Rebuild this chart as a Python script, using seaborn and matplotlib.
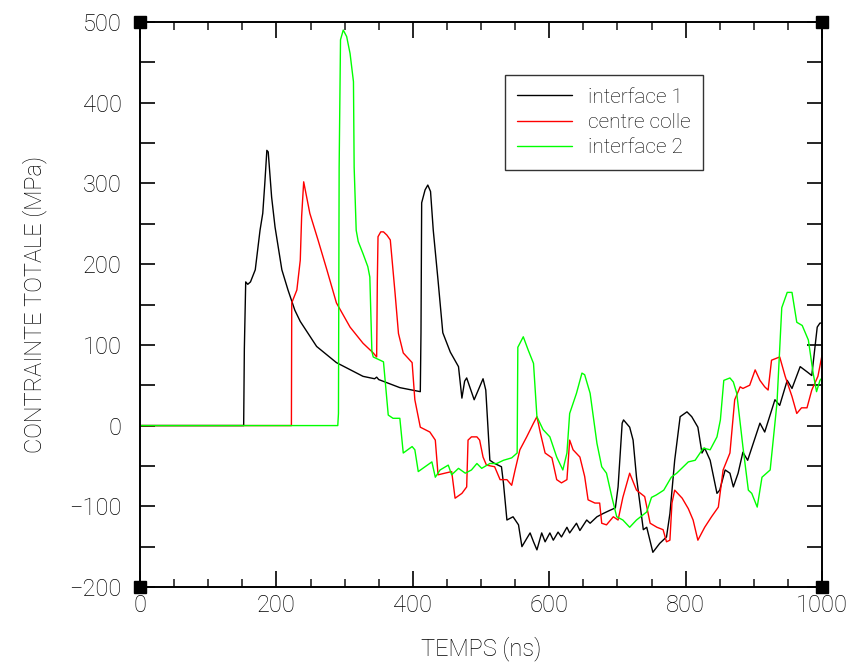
import numpy as np
import pandas as pd
import matplotlib
matplotlib.use("Agg")
import matplotlib.pyplot as plt
import seaborn as sns

# ---- data ----
series_names = ["interface 1", "centre colle", "interface 2"]
series_colors = ["#000000", "#ff0000", "#00ff00"]

t_interface1 = [0, 152, 153, 155, 158, 162, 169, 176, 180, 183, 186, 188, 193, 198, 208, 217,
                227, 235, 259, 288, 327, 344, 347, 350, 381, 411, 412, 413, 418, 422, 426, 430,
                437, 444, 455, 467, 472, 476, 479, 490, 500, 503, 507, 513, 520, 530, 533, 538,
                547, 555, 560, 567, 572, 577, 582, 589, 594, 601, 606, 613, 618, 626, 630, 640,
                645, 655, 660, 670, 679, 689, 697, 701, 707, 709, 718, 723, 728, 738, 743, 752,
                762, 772, 777, 784, 792, 802, 809, 818, 824, 828, 836, 846, 850, 858, 865, 870,
                877, 884, 891, 909, 916, 931, 938, 949, 956, 968, 979, 985, 993, 997, 1000]
s_interface1 = [0, 0, 95, 178, 175, 178, 193, 242, 263, 300, 341, 339, 283, 246, 193, 168,
                143, 129, 98, 78, 61, 58, 60, 57, 47, 42, 115, 276, 292, 298, 290, 242,
                180, 115, 91, 73, 34, 55, 59, 32, 52, 58, 44, -43, -47, -51, -72, -117,
                -113, -123, -150, -140, -133, -144, -154, -133, -144, -133, -142, -132, -138, -126, -133, -121,
                -130, -117, -121, -113, -109, -105, -102, -76, 3, 7, -2, -18, -64, -129, -126, -157,
                -146, -138, -109, -43, 11, 17, 11, -2, -34, -28, -43, -84, -80, -55, -59, -76,
                -59, -33, -43, 3, -8, 32, 25, 56, 46, 73, 66, 62, 122, 127, 127]

t_centre = [0, 222, 222.5, 230, 235, 237, 240, 249, 261, 274, 288, 308, 327, 342, 347, 348,
            349, 353, 357, 362, 367, 374, 379, 386, 399, 403, 411, 425, 433, 437, 447, 457,
            462, 472, 479, 481, 486, 494, 498, 503, 508, 520, 528, 538, 545, 550, 557, 567,
            577, 582, 587, 594, 604, 611, 618, 626, 630, 635, 645, 652, 657, 667, 674, 677,
            684, 694, 701, 708, 718, 728, 740, 748, 758, 767, 772, 777, 780, 784, 795, 804,
            811, 818, 828, 838, 848, 855, 865, 872, 880, 884, 894, 902, 909, 916, 921, 926,
            938, 946, 956, 963, 970, 978, 985, 994, 1000]
s_centre = [0, 0, 152, 168, 205, 259, 302, 263, 230, 193, 152, 122, 102, 90, 85, 180,
            234, 240, 240, 236, 230, 164, 114, 90, 78, 32, -2, -8, -18, -61, -59, -57,
            -90, -84, -76, -18, -14, -14, -18, -39, -49, -51, -67, -67, -74, -55, -30, -14,
            3, 11, -9, -34, -40, -67, -71, -67, -18, -30, -39, -63, -92, -96, -96, -121,
            -123, -113, -117, -89, -59, -80, -88, -121, -126, -129, -144, -142, -96, -80, -90, -103,
            -117, -142, -126, -113, -101, -55, -34, 32, 48, 46, 50, 69, 56, 48, 44, 81,
            85, 61, 36, 15, 22, 22, 44, 61, 87]

t_interface2 = [0, 290, 291, 292, 294, 298, 303, 308, 313, 314, 317, 320, 327, 334, 337, 340,
                342, 357, 364, 371, 381, 386, 399, 403, 408, 418, 428, 433, 440, 452, 457, 467,
                477, 486, 494, 501, 513, 523, 533, 545, 553, 554, 562, 569, 577, 582, 591, 601,
                611, 620, 626, 630, 640, 648, 652, 660, 670, 677, 684, 692, 699, 708, 718, 728,
                743, 750, 757, 768, 779, 787, 804, 814, 826, 836, 846, 851, 856, 865, 870, 875,
                884, 892, 897, 905, 912, 924, 934, 941, 949, 956, 963, 971, 980, 987, 992, 997, 1000]
s_interface2 = [0, 0, 15, 320, 478, 490, 482, 461, 426, 320, 242, 228, 213, 197, 184, 92,
                85, 79, 13, 9, 9, -34, -26, -30, -57, -51, -45, -64, -55, -49, -61, -53,
                -59, -55, -47, -53, -47, -47, -43, -40, -34, 97, 110, 94, 77, 11, -5, -14,
                -39, -55, -34, 15, 40, 65, 63, 40, -22, -51, -59, -89, -113, -117, -126, -117,
                -107, -89, -86, -80, -64, -59, -45, -43, -28, -30, -14, 7, 56, 59, 54, 40,
                -26, -80, -84, -101, -64, -55, 28, 146, 165, 165, 128, 124, 106, 65, 42, 56, 59]

x_ticks = [0, 200, 400, 600, 800, 1000]
y_ticks = [-200, -100, 0, 100, 200, 300, 400, 500]

# ---- build long-form table ----
frames = []
for name, t, s in [(series_names[0], t_interface1, s_interface1),
                   (series_names[1], t_centre, s_centre),
                   (series_names[2], t_interface2, s_interface2)]:
    frames.append(pd.DataFrame({"t": t, "s": s, "serie": name}))
df = pd.concat(frames, ignore_index=True)

sns.set_style("white")
plt.rcParams["font.family"] = ["Roboto", "DejaVu Sans"]
plt.rcParams["font.weight"] = "light"
plt.rcParams["axes.labelweight"] = "light"
plt.rcParams["axes.unicode_minus"] = True

fig = plt.figure(figsize=(8.51, 6.66), dpi=100)
ax = fig.add_axes([140 / 851, 1 - 587 / 666, 682 / 851, 565 / 666])

sns.lineplot(data=df, x="t", y="s", hue="serie", hue_order=series_names,
             palette=dict(zip(series_names, series_colors)), estimator=None,
             sort=False, linewidth=1.0, ax=ax)

ax.set_xlim(0, 1000)
ax.set_ylim(-200, 500)
ax.set_xticks(x_ticks)
ax.set_yticks(y_ticks)
ax.set_xticks(np.arange(0, 1001, 50), minor=True)
ax.set_yticks(np.arange(-200, 501, 50), minor=True)

txt_color = "#000000"
ax.tick_params(axis="x", which="major", direction="in", length=11.5, width=1.2,
               top=True, bottom=True, labelsize=17, pad=5, colors="black", labelcolor=txt_color)
ax.tick_params(axis="x", which="minor", direction="in", length=5.5, width=1.2,
               top=True, bottom=True)
ax.tick_params(axis="y", which="both", direction="in", length=11, width=1.2,
               left=True, right=True, labelsize=17, pad=13, colors="black", labelcolor=txt_color)

for sp in ax.spines.values():
    sp.set_visible(True)
    sp.set_color("black")
    sp.set_linewidth(1.4)

ax.set_xlabel("TEMPS (ns)", fontsize=17, color=txt_color, labelpad=14, fontweight="light")
ax.set_ylabel("CONTRAINTE TOTALE (MPa)", fontsize=17, color=txt_color, labelpad=16,
              fontweight="light")

# corner markers
ax.plot([0, 1, 0, 1], [0, 0, 1, 1], linestyle="none", marker="s", markersize=8,
        color="black", transform=ax.transAxes, clip_on=False, zorder=5)

handles, labels = ax.get_legend_handles_labels()
leg = ax.legend(handles, labels, loc="upper left", bbox_to_anchor=(0.535, 0.906),
                fontsize=15, frameon=True, fancybox=False, shadow=False,
                handlelength=2.6, handletextpad=0.8, borderpad=0.6,
                labelspacing=0.3, borderaxespad=0)
leg.get_frame().set_edgecolor("black")
leg.get_frame().set_linewidth(1.0)
for line in leg.get_lines():
    line.set_linewidth(1.0)
for text in leg.get_texts():
    text.set_color(txt_color)

fig.savefig("out.png", dpi=100)
